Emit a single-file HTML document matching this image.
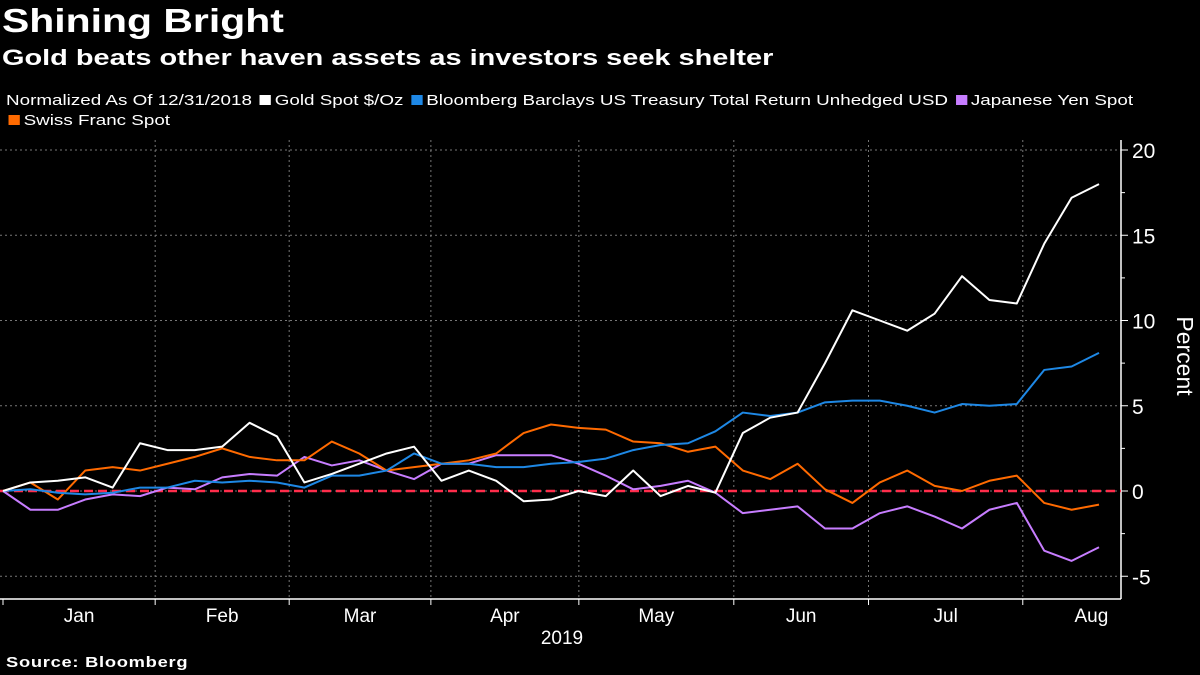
<!DOCTYPE html>
<html><head><meta charset="utf-8">
<style>
body{margin:0;background:#000;width:1200px;height:675px;overflow:hidden;font-family:"Liberation Sans",sans-serif;color:#fff}
#title{position:absolute;left:2px;top:2px;font-size:33px;font-weight:bold;transform:scaleX(1.24);transform-origin:0 0;white-space:nowrap}
#sub{position:absolute;left:2px;top:45px;font-size:22.5px;font-weight:bold;transform:scaleX(1.285);transform-origin:0 0;white-space:nowrap}
.leg{position:absolute;font-size:15px;left:6px;transform:scaleX(1.255);transform-origin:0 0;white-space:nowrap}
.sw{display:inline-block;width:9px;height:10px;margin:0 3px 0 2px}
#src{position:absolute;left:6px;top:654px;font-size:15px;font-weight:bold;letter-spacing:0.6px;transform:scaleX(1.22);transform-origin:0 0;white-space:nowrap}
svg{position:absolute;left:0;top:0}
</style></head><body>
<div id="title">Shining Bright</div>
<div id="sub">Gold beats other haven assets as investors seek shelter</div>
<div class="leg" style="top:92px">Normalized As Of 12/31/2018 <span><span class="sw" style="background:#fff"></span>Gold Spot $/Oz</span> <span><span class="sw" style="background:#1e88e5"></span>Bloomberg Barclays US Treasury Total Return Unhedged USD</span> <span><span class="sw" style="background:#c77dff"></span>Japanese Yen Spot</span></div>
<div class="leg" style="top:112px"><span class="sw" style="background:#ff6a00"></span>Swiss Franc Spot</div>
<div id="src">Source: Bloomberg</div>
<svg id="chart" width="1200" height="675"></svg>
<script>
const gold=[0,0.5,0.6,0.8,0.2,2.8,2.4,2.4,2.6,4.0,3.2,0.5,1.0,1.6,2.2,2.6,0.6,1.2,0.6,-0.6,-0.5,0,-0.3,1.2,-0.3,0.3,-0.1,3.4,4.3,4.6,7.5,10.6,10.0,9.4,10.4,12.6,11.2,11.0,14.5,17.2,18.0];
const treasury=[0,0.1,-0.1,-0.2,-0.1,0.2,0.2,0.6,0.5,0.6,0.5,0.2,0.9,0.9,1.2,2.2,1.6,1.6,1.4,1.4,1.6,1.7,1.9,2.4,2.7,2.8,3.5,4.6,4.4,4.6,5.2,5.3,5.3,5.0,4.6,5.1,5.0,5.1,7.1,7.3,8.1];
const yen=[0,-1.1,-1.1,-0.5,-0.2,-0.3,0.2,0.1,0.8,1.0,0.9,2.0,1.5,1.8,1.2,0.7,1.6,1.6,2.1,2.1,2.1,1.6,0.9,0.1,0.3,0.6,-0.1,-1.3,-1.1,-0.9,-2.2,-2.2,-1.3,-0.9,-1.5,-2.2,-1.1,-0.7,-3.5,-4.1,-3.3];
const franc=[0,0.5,-0.5,1.2,1.4,1.2,1.6,2.0,2.5,2.0,1.8,1.8,2.9,2.2,1.2,1.4,1.6,1.8,2.2,3.4,3.9,3.7,3.6,2.9,2.8,2.3,2.6,1.2,0.7,1.6,0.1,-0.7,0.5,1.2,0.3,0,0.6,0.9,-0.7,-1.1,-0.8];
const yTicks=[-5,0,5,10,15,20];
const months=["Jan","Feb","Mar","Apr","May","Jun","Jul","Aug"];
const monthBounds=[0,21.8,41,61.3,82.5,104.7,124,146.1];
const NS="http://www.w3.org/2000/svg";
const svg=document.getElementById('chart');
const X=i=>3+i*27.4;
const XM=m=>3+m*6.98;
const Y=v=>491-v*17.05;
function el(t,a){const e=document.createElementNS(NS,t);for(const k in a)e.setAttribute(k,a[k]);svg.appendChild(e);return e;}
yTicks.forEach(t=>{const g=el('line',{x1:0,x2:1121,y1:Y(t),y2:Y(t),stroke:'#777','stroke-dasharray':'2,3','stroke-width':1});


const tk=el('line',{x1:1121,x2:1128,y1:Y(t),y2:Y(t),stroke:'#fff'});


const tx=el('text',{x:1132,y:Y(t)+8,fill:'#fff','font-size':21,'font-family':'Liberation Sans, sans-serif'});tx.textContent=t;

});
[-2.5,2.5,7.5,12.5,17.5].forEach(t=>{const tk=el('line',{x1:1121,x2:1125,y1:Y(t),y2:Y(t),stroke:'#fff'});

});
monthBounds.forEach((m,i)=>{const x=XM(m);
if(i>0){const g=el('line',{x1:x,x2:x,y1:140,y2:599,stroke:'#777','stroke-dasharray':'2,3'});

}
const tk=el('line',{x1:x,x2:x,y1:599,y2:605,stroke:'#fff'});


const end=i<monthBounds.length-1?XM(monthBounds[i+1]):1160;
const tx=el('text',{x:(x+end)/2,y:622,fill:'#fff','font-size':19,'text-anchor':'middle','font-family':'Liberation Sans, sans-serif'});tx.textContent=months[i];

});
const yr=el('text',{x:562,y:644,fill:'#fff','font-size':19,'text-anchor':'middle','font-family':'Liberation Sans, sans-serif'});yr.textContent='2019';


const ax=el('line',{x1:0,x2:1121,y1:599,y2:599,stroke:'#fff','stroke-width':1.5});


const ay=el('line',{x1:1121,x2:1121,y1:140,y2:599,stroke:'#fff','stroke-width':1.5});


const pt=el('text',{x:0,y:0,fill:'#fff','font-size':23,'text-anchor':'middle',transform:'translate(1177,356) rotate(90)','font-family':'Liberation Sans, sans-serif'});pt.textContent='Percent';


const z=el('line',{x1:0,x2:1121,y1:Y(0),y2:Y(0),stroke:'#ff2d4b','stroke-width':2.5,'stroke-dasharray':'9,5'});


function series(d,c,name){const p=el('polyline',{points:d.map((v,i)=>X(i)+','+Y(v)).join(' '),fill:'none',stroke:c,'stroke-width':2,'stroke-linejoin':'round'});

}
series(yen,'#c77dff','yen-line');
series(franc,'#ff6a00','franc-line');
series(treasury,'#1e88e5','treasury-line');
series(gold,'#ffffff','gold-line');
</script>
</body></html>
